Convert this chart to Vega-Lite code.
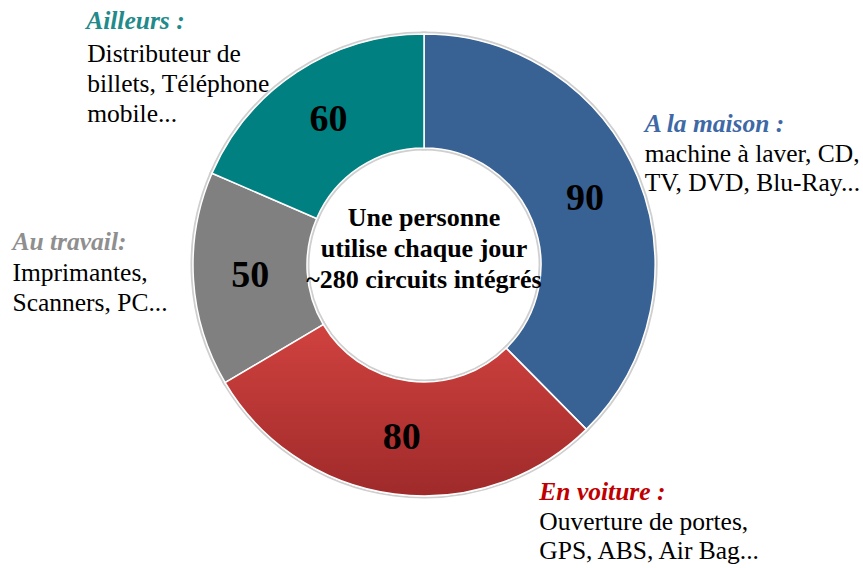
{
  "$schema": "https://vega.github.io/schema/vega-lite/v6.json",
  "width": 848,
  "height": 530,
  "autosize": {"type": "none"},
  "padding": {"left": 0, "top": 0, "right": 15, "bottom": 38},
  "background": "white",
  "config": {"view": {"stroke": null}},
  "data": {
    "values": [
      {"ord": 1, "cat": "maison", "part": 37.6, "n": 90, "title": "A la maison :", "body": ["machine à laver, CD,", "TV, DVD, Blu-Ray..."]},
      {"ord": 2, "cat": "voiture", "part": 28.9, "n": 80, "title": "En voiture :", "body": ["Ouverture de portes,", "GPS, ABS, Air Bag..."]},
      {"ord": 3, "cat": "travail", "part": 15.0, "n": 50, "title": "Au travail:", "body": ["Imprimantes,", "Scanners,  PC..."]},
      {"ord": 4, "cat": "ailleurs", "part": 18.5, "n": 60, "title": "Ailleurs :", "body": ["Distributeur  de", "billets,  Téléphone", "mobile..."]}
    ]
  },
  "transform": [
    {"stack": "part", "groupby": [], "sort": [{"field": "ord"}], "as": ["p0", "p1"]},
    {"calculate": "(datum.p0 + datum.p1) / 2", "as": "mid"}
  ],
  "layer": [
    {
      "mark": {"type": "arc", "outerRadius": 231, "innerRadius": 117, "fill": "#c8c8c8", "stroke": "#cfcfcf", "strokeWidth": 5},
      "encoding": {
        "theta": {"field": "p0", "type": "quantitative", "scale": {"domain": [0, 100], "range": [0, 6.283185]}},
        "theta2": {"field": "p1"}
      }
    },
    {
      "mark": {"type": "arc", "outerRadius": 231, "innerRadius": 117, "stroke": "white", "strokeWidth": 1.5},
      "encoding": {
        "theta": {"field": "p0", "type": "quantitative", "scale": {"domain": [0, 100], "range": [0, 6.283185]}},
        "theta2": {"field": "p1"},
        "color": {"field": "cat", "type": "nominal", "legend": null, "scale": {"domain": ["maison", "voiture", "travail", "ailleurs"], "range": ["#386194", "#c23b39", "#808080", "#008080"]}}
      }
    },
    {
      "transform": [{"filter": "datum.cat === 'voiture'"}],
      "mark": {"type": "arc", "outerRadius": 231, "innerRadius": 117, "stroke": "white", "strokeWidth": 1.5,
        "fill": {"gradient": "linear", "x1": 0, "y1": 0, "x2": 0, "y2": 1, "stops": [{"offset": 0, "color": "#d0423f"}, {"offset": 1, "color": "#9f2a2a"}]}},
      "encoding": {
        "theta": {"field": "p0", "type": "quantitative", "scale": {"domain": [0, 100], "range": [0, 6.283185]}},
        "theta2": {"field": "p1"}
      }
    },
    {
      "mark": {"type": "text", "radius": 174, "font": "Liberation Serif", "fontWeight": "bold", "fontSize": 38, "color": "black", "align": "center", "baseline": "middle"},
      "encoding": {
        "theta": {"field": "mid", "type": "quantitative", "scale": {"domain": [0, 100], "range": [0, 6.283185]}},
        "text": {"field": "n", "type": "quantitative"}
      }
    },
    {
      "data": {"values": [{"t": ["Une personne", "utilise chaque jour", "~280 circuits intégrés"]}]},
      "mark": {"type": "text", "font": "Liberation Serif", "fontWeight": "bold", "fontSize": 26, "lineHeight": 31, "color": "black", "align": "center", "baseline": "middle", "dy": -47},
      "encoding": {"text": {"field": "t"}}
    },
    {
      "transform": [{"filter": "datum.cat === 'maison'"}],
      "mark": {"type": "text", "radius": 231, "font": "Liberation Serif", "fontWeight": "bold", "fontStyle": "italic", "fontSize": 25.5, "color": "#3e68a6", "align": "left", "baseline": "alphabetic", "dx": 7, "dy": -45},
      "encoding": {"theta": {"field": "mid", "type": "quantitative", "scale": {"domain": [0, 100], "range": [0, 6.283185]}}, "text": {"field": "title"}}
    },
    {
      "transform": [{"filter": "datum.cat === 'maison'"}],
      "mark": {"type": "text", "radius": 231, "font": "Liberation Serif", "fontSize": 25.5, "lineHeight": 29, "color": "black", "align": "left", "baseline": "alphabetic", "dx": 7, "dy": -15},
      "encoding": {"theta": {"field": "mid", "type": "quantitative", "scale": {"domain": [0, 100], "range": [0, 6.283185]}}, "text": {"field": "body"}}
    },
    {
      "transform": [{"filter": "datum.cat === 'voiture'"}],
      "mark": {"type": "text", "radius": 231, "font": "Liberation Serif", "fontWeight": "bold", "fontStyle": "italic", "fontSize": 25.5, "color": "#c00000", "align": "left", "baseline": "alphabetic", "dx": 145, "dy": 6},
      "encoding": {"theta": {"field": "mid", "type": "quantitative", "scale": {"domain": [0, 100], "range": [0, 6.283185]}}, "text": {"field": "title"}}
    },
    {
      "transform": [{"filter": "datum.cat === 'voiture'"}],
      "mark": {"type": "text", "radius": 231, "font": "Liberation Serif", "fontSize": 25.5, "lineHeight": 29, "color": "black", "align": "left", "baseline": "alphabetic", "dx": 145, "dy": 36},
      "encoding": {"theta": {"field": "mid", "type": "quantitative", "scale": {"domain": [0, 100], "range": [0, 6.283185]}}, "text": {"field": "body"}}
    },
    {
      "transform": [{"filter": "datum.cat === 'travail'"}],
      "mark": {"type": "text", "radius": 231, "font": "Liberation Serif", "fontWeight": "bold", "fontStyle": "italic", "fontSize": 25.5, "color": "#8f8f8f", "align": "left", "baseline": "alphabetic", "dx": -181, "dy": -30},
      "encoding": {"theta": {"field": "mid", "type": "quantitative", "scale": {"domain": [0, 100], "range": [0, 6.283185]}}, "text": {"field": "title"}}
    },
    {
      "transform": [{"filter": "datum.cat === 'travail'"}],
      "mark": {"type": "text", "radius": 231, "font": "Liberation Serif", "fontSize": 25.5, "lineHeight": 30, "color": "black", "align": "left", "baseline": "alphabetic", "dx": -181, "dy": 1},
      "encoding": {"theta": {"field": "mid", "type": "quantitative", "scale": {"domain": [0, 100], "range": [0, 6.283185]}}, "text": {"field": "body"}}
    },
    {
      "transform": [{"filter": "datum.cat === 'ailleurs'"}],
      "mark": {"type": "text", "radius": 231, "font": "Liberation Serif", "fontWeight": "bold", "fontStyle": "italic", "fontSize": 25.5, "color": "#218a8a", "align": "left", "baseline": "alphabetic", "dx": -211, "dy": -43},
      "encoding": {"theta": {"field": "mid", "type": "quantitative", "scale": {"domain": [0, 100], "range": [0, 6.283185]}}, "text": {"field": "title"}}
    },
    {
      "transform": [{"filter": "datum.cat === 'ailleurs'"}],
      "mark": {"type": "text", "radius": 231, "font": "Liberation Serif", "fontSize": 25.5, "lineHeight": 30, "color": "black", "align": "left", "baseline": "alphabetic", "dx": -210, "dy": -10},
      "encoding": {"theta": {"field": "mid", "type": "quantitative", "scale": {"domain": [0, 100], "range": [0, 6.283185]}}, "text": {"field": "body"}}
    }
  ]
}
